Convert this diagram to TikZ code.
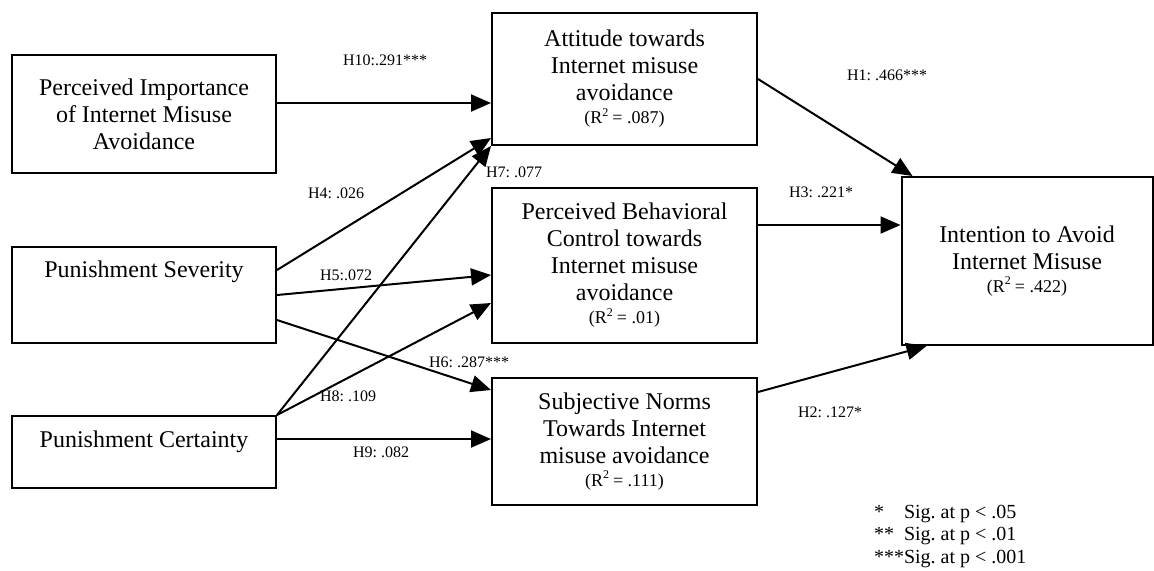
\documentclass[tikz,border=0pt]{standalone}
\usepackage{fontspec}
\setmainfont{Liberation Serif}
\usetikzlibrary{arrows.meta,positioning}
\frenchspacing

\newcommand{\rsq}[1]{{\fontsize{9}{11}\selectfont(R\textsuperscript{2}\,= #1)}}

\begin{document}
\begin{tikzpicture}[
        x=0.5pt, y=-0.5pt,
        >={Triangle[length=10pt,width=8.5pt]},
        every path/.style={line width=1pt},
        box/.style={draw, align=center, inner sep=0pt, font=\fontsize{12}{13.5}\selectfont},
        hyp/.style={inner sep=0pt, font=\fontsize{8}{9.5}\selectfont}
    ]

  \useasboundingbox (0,0) rectangle (1154,570);

  % Nodes
  \node (pima) [box, minimum width=132pt, minimum height=59pt] at (144,114) {Perceived Importance\\of Internet Misuse\\Avoidance};
  \node (ps) [box, minimum width=132pt, minimum height=48pt, text height=8pt, text depth=26pt] at (144,295) {Punishment Severity};
  \node (pc) [box, minimum width=132pt, minimum height=36pt, text height=8pt, text depth=13pt] at (144,452) {Punishment Certainty};

  \node (att) [box, minimum width=132.5pt, minimum height=66pt] at (624.5,79) {Attitude towards\\Internet misuse\\avoidance\\[-2pt]\rsq{.087}};
  \node (pbc) [box, minimum width=132.5pt, minimum height=77.5pt] at (624.5,265.5) {Perceived Behavioral\\Control towards\\Internet misuse\\avoidance\\[-2pt]\rsq{.01}};
  \node (sn) [box, minimum width=132.5pt, minimum height=63.5pt] at (624.5,441.5) {Subjective Norms\\Towards Internet\\misuse avoidance\\[-2pt]\rsq{.111}};

  \node (int) [box, minimum width=125.5pt, minimum height=84pt] at (1027,261) {Intention to Avoid\\Internet Misuse\\[-2pt]\rsq{.422}};

  % Path labels
  \node (h10) [hyp] at (385,60) {H10:.291***};
  \node (h4) [hyp] at (336,193) {H4: .026};
  \node (h7) [hyp] at (514,172) {H7: .077};
  \node (h5) [hyp] at (346,275) {H5:.072};
  \node (h6) [hyp] at (469,362) {H6: .287***};
  \node (h8) [hyp] at (348,396) {H8: .109};
  \node (h9) [hyp] at (381,452) {H9: .082};
  \node (h1) [hyp] at (887,75) {H1: .466***};
  \node (h3) [hyp] at (821,192) {H3: .221*};
  \node (h2) [hyp] at (830,412) {H2: .127*};

  % Legend
  \node (sig) [anchor=north west, align=left, inner sep=0pt, font=\fontsize{10}{11.25}\selectfont] at (873,504) {\makebox[15pt][l]{*}Sig. at p < .05\\\makebox[15pt][l]{**}Sig. at p < .01\\\makebox[15pt][l]{***}Sig. at p < .001};

  % Paths
  \draw[->] ([yshift=5.5pt]pima.east) -- ([yshift=-12pt]att.west);
  \draw[->] ([yshift=12.5pt]ps.east) -- ([yshift=-29.5pt]att.west);
  \draw[->] (pc.north east) -- (att.south west);
  \draw[->] (ps.east) -- ([yshift=-4.75pt]pbc.west);
  \draw[->] ([yshift=-12.5pt]ps.east) -- ([yshift=25.75pt]sn.west);
  \draw[->] (pc.north east) -- ([yshift=-18.75pt]pbc.west);
  \draw[->] ([yshift=6.5pt]pc.east) -- ([yshift=1.25pt]sn.west);
  \draw[->] (att.east) -- ([xshift=6pt]int.north west);
  \draw[->] ([yshift=20.25pt]pbc.east) -- ([yshift=18pt]int.west);
  \draw[->] ([yshift=24.75pt]sn.east) -- ([xshift=13pt]int.south west);
\end{tikzpicture}
\end{document}
